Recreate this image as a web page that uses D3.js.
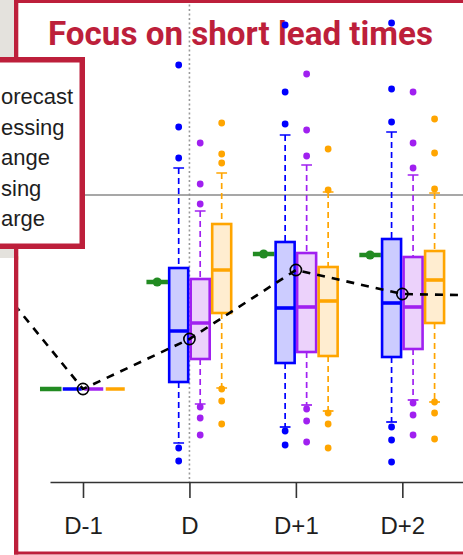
<!DOCTYPE html>
<html>
<head>
<meta charset="utf-8">
<script src="https://cdn.jsdelivr.net/npm/d3@7"></script>
<style>
  html, body { margin: 0; padding: 0; background: #fff; }
  svg { display: block; }
</style>
</head>
<body>
<script>
// ---- data -------------------------------------------------------------
const leadLabels = ["D-2", "D-1", "D", "D+1", "D+2", "D+3"];
const leadIndex  = [-1, 0, 1, 2, 3, 4];
const tickLeads  = ["D-1", "D", "D+1", "D+2"];

// box statistics per lead (D-2 .. D+2): [lower whisker, q1, median, q3, upper whisker]
const blueStats = [
  [112, 112, 112, 112, 112],
  [46.5, 46.5, 46.5, 46.5, 46.5],
  [19.5, 50, 75.5, 107, 157],
  [27.5, 59.5, 87, 120, 173.5],
  [30, 62.5, 89.5, 121.5, 175]
];
const blueOutliers = [[], [], [208.5, 177.5, 162, 17, 10.5], [228.5, 195, 179, 25.5, 18.5], [229.5, 196.5, 180, 27.5, 21, 10]];

const purpleStats = [
  [112, 112, 112, 112, 112],
  [46.5, 46.5, 46.5, 46.5, 46.5],
  [39, 61.5, 79.5, 101.5, 135.5],
  [38.5, 65, 87.5, 114.5, 158.5],
  [41, 66.5, 87.5, 112.5, 153.5]
];
const purpleOutliers = [[], [], [169.5, 149, 139, 37.5, 32, 23.5], [204, 176, 163, 36.5, 30.5, 20], [195, 169.5, 157, 39.5, 33.5, 23.5]];

const orangeStats = [
  [112, 112, 112, 112, 112],
  [46.5, 46.5, 46.5, 46.5, 46.5],
  [47, 84.5, 106, 129, 154.5],
  [35.5, 63, 90.5, 107.5, 145],
  [40, 79.5, 101, 115.5, 144.5]
];
const orangeOutliers = [[], [], [179.5, 164, 159.5, 46.5, 40.5, 29], [166.5, 146, 34.5, 29, 17], [181.5, 164.5, 146.5, 40, 34.5, 21.5]];

// single-valued (green) forecast per lead, D-2 .. D+2
const greenValues = [112, 46.5, 100, 114, 113.5];
// dashed reference trajectory, D-2 .. D+3
const lineValues = [112, 46.5, 71.5, 106, 94, 93];
const thresholdLevel = 143.5;

const legendLabels = ["orecast", "essing", "ange", "sing", "arge"];
const legendTextEnd = [72, 60, 42, 39, 37];

// ---- setup ------------------------------------------------------------
const W = 463, H = 555;
const RED = "#bd1f3b";
const svg = d3.select("body").append("svg").attr("width", W).attr("height", H);
svg.append("rect").attr("width", W).attr("height", H).attr("fill", "#fff");

// title
svg.append("text")
  .attr("x", 48).attr("y", 45)
  .attr("font-family", "Roboto, 'Open Sans', sans-serif")
  .attr("font-weight", 700).attr("font-size", 33)
  .attr("fill", RED)
  .attr("textLength", 385).attr("lengthAdjust", "spacingAndGlyphs")
  .text("Focus on short lead times");

const x = d3.scaleLinear().domain([-0.31, 3.57]).range([50, 463]);
const y = d3.scaleLinear().domain([0, 230]).range([482, 22]);
const step = x(1) - x(0);
const slot = step * 0.202;
const leadPos = l => leadIndex[leadLabels.indexOf(l)];

svg.append("defs").append("clipPath").attr("id", "plotClip")
  .append("rect").attr("x", 18.3).attr("y", 3).attr("width", W).attr("height", 548.5);

const plot = svg.append("g").attr("clip-path", "url(#plotClip)");

// forecast issue time marker
plot.append("line")
  .attr("x1", x(leadPos("D"))).attr("x2", x(leadPos("D"))).attr("y1", 0).attr("y2", y(0))
  .attr("stroke", "#9a9a9a").attr("stroke-width", 1.6).attr("stroke-dasharray", "2,2.5");

// threshold
plot.append("line")
  .attr("x1", 0).attr("x2", W).attr("y1", y(thresholdLevel)).attr("y2", y(thresholdLevel))
  .attr("stroke", "#8a8a8a").attr("stroke-width", 1.3);

// x axis
const axis = plot.append("g")
  .attr("transform", `translate(0,${y(0)})`)
  .call(d3.axisBottom(x)
    .tickValues(tickLeads.map(leadPos))
    .tickFormat((d, i) => tickLeads[i])
    .tickSize(16).tickPadding(19).tickSizeOuter(0));
axis.selectAll("path, line").attr("stroke", "#333").attr("stroke-width", 1.6);
axis.selectAll("text")
  .attr("font-family", "'Liberation Sans', Arial, sans-serif")
  .attr("font-size", 24).attr("fill", "#1e1e1e");

// green single-valued forecast
const boxLeads = leadIndex.slice(0, 5);
const gOff = -1.5 * slot;
boxLeads.forEach((li, i) => {
  const cx = x(li) + gOff;
  plot.append("line")
    .attr("x1", cx - slot / 2).attr("x2", cx + slot / 2)
    .attr("y1", y(greenValues[i])).attr("y2", y(greenValues[i]))
    .attr("stroke", "#228b22").attr("stroke-width", 4.5);
  if (li >= leadPos("D")) {
    plot.append("circle").attr("cx", cx).attr("cy", y(greenValues[i])).attr("r", 4.6).attr("fill", "#228b22");
  }
});

// box plots
const series = [
  { stats: blueStats,   out: blueOutliers,   stroke: "#0000ff", fill: "#ccccff", off: -0.5 },
  { stats: purpleStats, out: purpleOutliers, stroke: "#a020f0", fill: "#ecd2fb", off: 0.5 },
  { stats: orangeStats, out: orangeOutliers, stroke: "#ffa500", fill: "#ffedd0", off: 1.5 }
];

series.forEach(s => {
  boxLeads.forEach((li, i) => {
    const [lo, q1, med, q3, hi] = s.stats[i];
    const cx = x(li) + s.off * slot;
    const g = plot.append("g");
    // whiskers
    [[hi, q3], [q1, lo]].forEach(([a, b]) => {
      g.append("line").attr("x1", cx).attr("x2", cx).attr("y1", y(a)).attr("y2", y(b))
        .attr("stroke", s.stroke).attr("stroke-width", 1.7).attr("stroke-dasharray", "6,4");
    });
    [hi, lo].forEach(v => {
      g.append("line").attr("x1", cx - slot / 4).attr("x2", cx + slot / 4)
        .attr("y1", y(v)).attr("y2", y(v))
        .attr("stroke", s.stroke).attr("stroke-width", 1.7);
    });
    // box
    g.append("rect")
      .attr("x", cx - slot / 2 + 1.25).attr("width", slot - 2.5)
      .attr("y", y(q3)).attr("height", y(q1) - y(q3))
      .attr("fill", s.fill).attr("stroke", s.stroke).attr("stroke-width", 2.6);
    // median
    g.append("line").attr("x1", cx - slot / 2 + 1.25).attr("x2", cx + slot / 2 - 1.25)
      .attr("y1", y(med)).attr("y2", y(med))
      .attr("stroke", s.stroke).attr("stroke-width", 3.6);
    // outliers
    g.selectAll("circle.out").data(s.out[i]).enter().append("circle")
      .attr("cx", cx).attr("cy", d => y(d)).attr("r", 3.4).attr("fill", s.stroke);
  });
});

// dashed trajectory with open circles
const pts = leadIndex.map((li, i) => [x(li), y(lineValues[i])]);
plot.append("path")
  .attr("d", d3.line()(pts))
  .attr("fill", "none").attr("stroke", "#000").attr("stroke-width", 2.6)
  .attr("stroke-dasharray", "8,7");
plot.selectAll("circle.traj").data(pts).enter().append("circle")
  .attr("cx", d => d[0]).attr("cy", d => d[1]).attr("r", 5.6)
  .attr("fill", "none").attr("stroke", "#000").attr("stroke-width", 1.6);

// ---- frame, side panel and legend ------------------------------------
svg.append("rect").attr("x", 14).attr("y", 0).attr("width", 4.3).attr("height", 554.5).attr("fill", RED);
svg.append("rect").attr("x", 14).attr("y", 0).attr("width", W).attr("height", 3).attr("fill", RED);
svg.append("rect").attr("x", 14).attr("y", 551.5).attr("width", W).attr("height", 3).attr("fill", RED);
svg.append("rect").attr("x", 0).attr("y", 0).attr("width", 14).attr("height", 258).attr("fill", "#e4e2dd");

svg.append("rect")
  .attr("x", -20).attr("y", 59.75).attr("width", 102.25).attr("height", 186.5)
  .attr("fill", "#fff").attr("stroke", RED).attr("stroke-width", 5.5);

// legend labels, right-aligned but kept fully inside the page
svg.append("g").selectAll("text").data(legendLabels).enter().append("text")
  .attr("y", (d, i) => 104 + i * 30.5)
  .attr("text-anchor", "end")
  .attr("font-family", "'Liberation Sans', Arial, sans-serif")
  .attr("font-size", 22).attr("fill", "#1e1e1e")
  .text(d => d)
  .attr("x", function (d, i) {
    const len = this.getComputedTextLength();
    return Math.max(legendTextEnd[i], len + 1);
  });
</script>
</body>
</html>
